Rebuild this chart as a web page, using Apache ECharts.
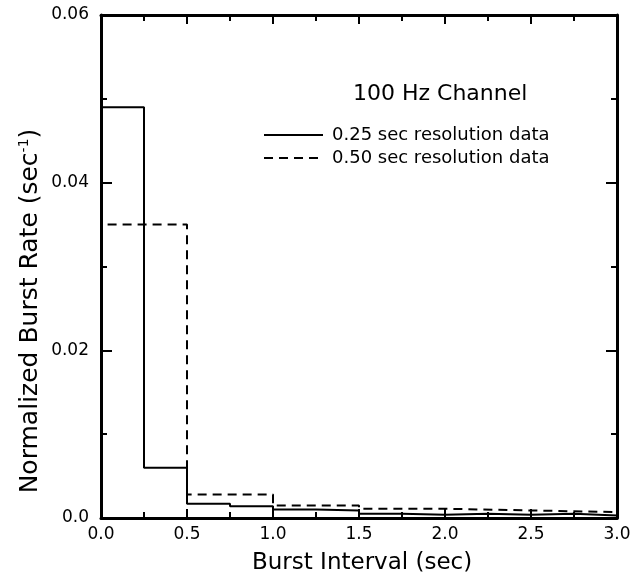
<!DOCTYPE html>
<html>
<head>
<meta charset="utf-8">
<script src="https://cdn.jsdelivr.net/npm/echarts@6/dist/echarts.min.js"></script>
<style>html,body{margin:0;padding:0;background:#fff;}#c{width:640px;height:581px;}</style>
</head>
<body>
<div id="c"></div>
<script>
// Data (bin left edges, bin widths, normalized burst rates)
const solidBinStarts = [0, 0.25, 0.5, 0.75, 1.0, 1.25, 1.5, 1.75, 2.0, 2.25, 2.5, 2.75];
const solidBinWidth = 0.25;
const solidValues = [0.049, 0.006, 0.0017, 0.0014, 0.001, 0.0009, 0.0005, 0.0004, 0.0005, 0.0004, 0.0005, 0.0003];
const dashedBinStarts = [0, 0.5, 1.0, 1.5, 2.0, 2.5];
const dashedBinWidth = 0.5;
const dashedValues = [0.035, 0.0028, 0.0015, 0.0011, 0.0009, 0.0007];
const yTickLabels = {"0": "0.0", "0.02": "0.02", "0.04": "0.04", "0.06": "0.06"};
const seriesNames = ["0.25 sec resolution data", "0.50 sec resolution data"];

function stepPoints(starts, width, vals) {
  const pts = [[starts[0], 0]];
  for (let i = 0; i < vals.length; i++) {
    pts.push([starts[i], vals[i]]);
    pts.push([starts[i] + width, vals[i]]);
  }
  pts.push([starts[starts.length - 1] + width, 0]);
  return pts;
}

const font = '"DejaVu Sans", Arial, sans-serif';
const chart = echarts.init(document.getElementById('c'), null, {renderer: 'canvas'});

const xBase = {
  type: 'value', min: 0, max: 3, interval: 0.5,
  axisLine: {show: true, onZero: false, lineStyle: {color: '#000', width: 3}},
  axisTick: {show: true, inside: true, length: 9, lineStyle: {color: '#000', width: 2}},
  minorTick: {show: true, splitNumber: 2, length: 6, lineStyle: {color: '#000', width: 2}},
  splitLine: {show: false}, minorSplitLine: {show: false}
};
const yBase = {
  type: 'value', min: 0, max: 0.06, interval: 0.02,
  axisLine: {show: true, onZero: false, lineStyle: {color: '#000', width: 3}},
  axisTick: {show: true, inside: true, length: 11, lineStyle: {color: '#000', width: 2}},
  minorTick: {show: true, splitNumber: 2, length: 6, lineStyle: {color: '#000', width: 2}},
  splitLine: {show: false}, minorSplitLine: {show: false}
};

chart.setOption({
  animation: false,
  backgroundColor: '#fff',
  grid: {left: 101, right: 23, top: 15, bottom: 63},
  legend: {
    orient: 'vertical', left: 263, top: 126, padding: 0, itemWidth: 59, itemHeight: 14, itemGap: 5,
    data: seriesNames,
    itemStyle: {opacity: 0},
    textStyle: {fontFamily: font, fontSize: 18, color: '#000', padding: [0, 0, 0, 4]}
  },
  xAxis: [
    Object.assign({}, xBase, {position: 'bottom',
      axisLabel: {show: true, margin: 8, fontFamily: font, fontSize: 17, fontWeight: 500, color: '#000',
        formatter: v => v.toFixed(1)}}),
    Object.assign({}, xBase, {position: 'top', axisLabel: {show: false}})
  ],
  yAxis: [
    Object.assign({}, yBase, {position: 'left',
      axisLabel: {show: true, margin: 12, fontFamily: font, fontSize: 17, fontWeight: 500, color: '#000',
        formatter: v => yTickLabels[String(+v.toFixed(2))] || ''}}),
    Object.assign({}, yBase, {position: 'right', axisLabel: {show: false}})
  ],
  series: [
    {name: seriesNames[0], type: 'line', symbol: 'none', data: stepPoints(solidBinStarts, solidBinWidth, solidValues),
      lineStyle: {color: '#000', width: 2, type: 'solid'}, itemStyle: {color: '#000'}, z: 3},
    {name: seriesNames[1], type: 'line', symbol: 'none', data: stepPoints(dashedBinStarts, dashedBinWidth, dashedValues),
      lineStyle: {color: '#000', width: 2, type: [9, 6]}, itemStyle: {color: '#000'}, z: 2}
  ],
  graphic: [
    {type: 'text', left: 353, top: 83, style: {text: '100 Hz Channel', font: '22px ' + font, fill: '#000'}},
    {type: 'text', left: 252, top: 552, style: {text: 'Burst Interval (sec)', font: '23px ' + font, fill: '#000'}},
    {type: 'text', x: 30, y: 311, rotation: Math.PI / 2,
      style: {text: '{n|Normalized Burst Rate (sec}{s|-1}{n|)}', align: 'center', verticalAlign: 'middle',
        rich: {n: {fontFamily: font, fontSize: 25, fill: '#000'}, s: {fontFamily: font, fontSize: 14, fill: '#000', verticalAlign: 'top', padding: [0, 0, 10, 0]}}}}
  ]
});
</script>
</body>
</html>
